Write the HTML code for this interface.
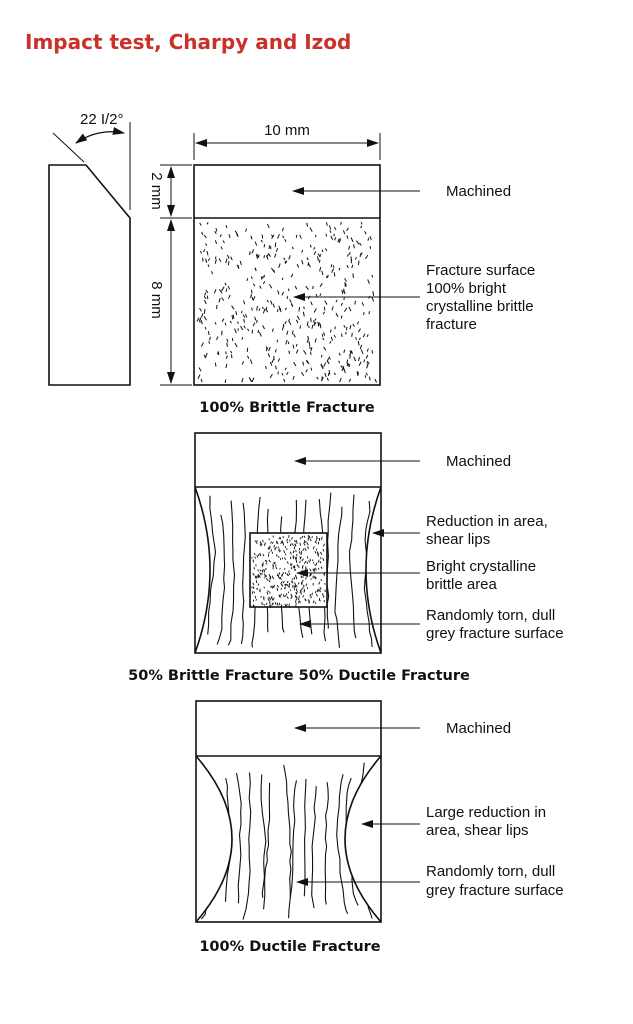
<!DOCTYPE html>
<html><head><meta charset="utf-8"><style>
body{margin:0;background:#fff;width:633px;height:1024px;overflow:hidden}
svg{display:block}
.t{font-family:"Liberation Sans",Arial,sans-serif;font-size:15px;fill:#111}
.c{font-family:"DejaVu Sans",sans-serif;font-weight:bold;font-size:14.5px;fill:#111}
</style></head><body>
<svg id="s" width="633" height="1024" viewBox="0 0 633 1024">
<defs><marker id="a" markerWidth="12" markerHeight="8" refX="1" refY="4" orient="auto" markerUnits="userSpaceOnUse"><path d="M12,0 L0,4 L12,8 Z" fill="#111"/></marker>
<marker id="b" markerWidth="12" markerHeight="8" refX="11" refY="4" orient="auto" markerUnits="userSpaceOnUse"><path d="M0,0 L12,4 L0,8 Z" fill="#111"/></marker>
<clipPath id="c2"><path d="M195,487 Q225,570 195,653 H381 Q351,570 381,487 Z"/></clipPath>
<clipPath id="c3"><path d="M196,756 Q268,839 196,922 H381 Q309,839 381,756 Z"/></clipPath>
</defs>
<text x="25" y="49" style="font-family:'DejaVu Sans',sans-serif;font-weight:bold;font-size:20px;fill:#c8322a">Impact test, Charpy and Izod</text>
<g id="tex1" stroke="#111" fill="none"></g>
<g id="tex2" stroke="#111" fill="none" clip-path="url(#c2)"></g>
<g id="tex3" stroke="#111" fill="none" clip-path="url(#c3)"></g>
<rect x="250" y="533" width="77" height="74" fill="#fff"/>
<g id="tex4" stroke="#111" fill="none"></g>
<g stroke="#111" fill="none" stroke-width="1.6">
<path d="M49,165 H86 L130,218 V385 H49 Z"/>
<line x1="53" y1="133" x2="84" y2="162" stroke-width="1"/>
<line x1="130" y1="122" x2="130" y2="210" stroke-width="1"/>
<path d="M76,143 Q98,128 124,133" stroke-width="1.2" marker-start="url(#a)" marker-end="url(#b)"/>
<rect x="194" y="165" width="186" height="220"/>
<line x1="194" y1="218" x2="380" y2="218"/>
<g stroke-width="1"><line x1="194" y1="133" x2="194" y2="160"/><line x1="380" y1="133" x2="380" y2="160"/>
<line x1="196" y1="143" x2="378" y2="143" marker-start="url(#a)" marker-end="url(#b)"/>
<line x1="160" y1="165" x2="192" y2="165"/><line x1="160" y1="218" x2="192" y2="218"/><line x1="160" y1="385" x2="192" y2="385"/>
<line x1="171" y1="167" x2="171" y2="216" marker-start="url(#a)" marker-end="url(#b)"/>
<line x1="171" y1="220" x2="171" y2="383" marker-start="url(#a)" marker-end="url(#b)"/></g>
<rect x="195" y="433" width="186" height="220"/>
<line x1="195" y1="487" x2="381" y2="487"/>
<path d="M195,487 Q225,570 195,653 M381,487 Q351,570 381,653"/>
<rect x="250" y="533" width="77" height="74"/>
<rect x="196" y="701" width="185" height="221"/>
<line x1="196" y1="756" x2="381" y2="756"/>
<path d="M196,756 Q268,839 196,922 M381,756 Q309,839 381,922"/>
<g stroke-width="1.1">
<line x1="420" y1="191" x2="293" y2="191" marker-end="url(#b)"/>
<line x1="420" y1="297" x2="294" y2="297" marker-end="url(#b)"/>
<line x1="420" y1="461" x2="295" y2="461" marker-end="url(#b)"/>
<line x1="420" y1="533" x2="373" y2="533" marker-end="url(#b)"/>
<line x1="420" y1="573" x2="297" y2="573" marker-end="url(#b)"/>
<line x1="420" y1="624" x2="300" y2="624" marker-end="url(#b)"/>
<line x1="420" y1="728" x2="295" y2="728" marker-end="url(#b)"/>
<line x1="420" y1="824" x2="362" y2="824" marker-end="url(#b)"/>
<line x1="420" y1="882" x2="297" y2="882" marker-end="url(#b)"/>
</g></g>
<text x="80" y="124" class="t">22 I/2°</text>
<text x="287" y="135" class="t" text-anchor="middle">10 mm</text>
<text class="t" transform="translate(152,191) rotate(90)" text-anchor="middle">2 mm</text>
<text class="t" transform="translate(152,300) rotate(90)" text-anchor="middle">8 mm</text>
<text x="446" y="196" class="t">Machined</text>
<text x="426" y="275" class="t">Fracture surface</text>
<text x="426" y="293" class="t">100% bright</text>
<text x="426" y="311" class="t">crystalline brittle</text>
<text x="426" y="329" class="t">fracture</text>
<text x="287" y="412" class="c" text-anchor="middle">100% Brittle Fracture</text>
<text x="446" y="466" class="t">Machined</text>
<text x="426" y="526" class="t">Reduction in area,</text>
<text x="426" y="544" class="t">shear lips</text>
<text x="426" y="571" class="t">Bright crystalline</text>
<text x="426" y="589" class="t">brittle area</text>
<text x="426" y="620" class="t">Randomly torn, dull</text>
<text x="426" y="638" class="t">grey fracture surface</text>
<text x="299" y="680" class="c" text-anchor="middle">50% Brittle Fracture 50% Ductile Fracture</text>
<text x="446" y="733" class="t">Machined</text>
<text x="426" y="817" class="t">Large reduction in</text>
<text x="426" y="835" class="t">area, shear lips</text>
<text x="426" y="876" class="t">Randomly torn, dull</text>
<text x="426" y="895" class="t">grey fracture surface</text>
<text x="290" y="951" class="c" text-anchor="middle">100% Ductile Fracture</text>
</svg>
<script>
var seed=7;function r(){seed=(seed*16807)%2147483647;return seed/2147483647;}
function dash(x0,y0,w,hh,n,len,sw){var h='';for(var i=0;i<n;i++){var x=x0+r()*w,y=y0+r()*hh,a=(r()<0.6?1.2:1.9)+r()*0.5-0.25,l=len*(0.6+r()*0.6);h+='<line x1="'+x.toFixed(1)+'" y1="'+y.toFixed(1)+'" x2="'+(x+Math.cos(a)*l).toFixed(1)+'" y2="'+(y+Math.sin(a)*l).toFixed(1)+'" stroke-width="'+sw+'"/>';}return h;}
function fib(x0,x1,y0,y1,n,bend){var h='';for(var i=0;i<n;i++){var t=(i+0.5)/n,x=x0+t*(x1-x0)+(r()-0.5)*5,y=y0+r()*25,end=y1-r()*25;var d='M'+x.toFixed(1)+','+y.toFixed(1);var cx=x;var k=(t-0.5)*2;while(y<end){y+=7+r()*9;var m=(y-(y0+y1)/2)/(y1-y0);cx+=(r()-0.5)*3.5+k*bend*m*0.6;d+=' L'+cx.toFixed(1)+','+Math.min(y,end).toFixed(1);}h+='<path d="'+d+'" stroke-width="1.1"/>';}return h;}
document.getElementById('tex1').innerHTML=dash(199,222,176,158,430,4,1);
document.getElementById('tex2').innerHTML=fib(203,373,492,650,14,5);
document.getElementById('tex3').innerHTML=fib(208,370,762,920,14,8);
document.getElementById('tex4').innerHTML=dash(252,535,73,70,380,2.6,0.9);
</script>
</body></html>
